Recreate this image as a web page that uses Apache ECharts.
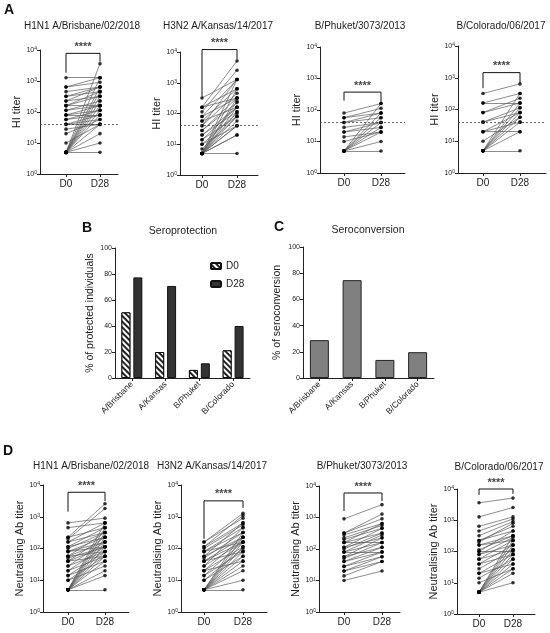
<!DOCTYPE html>
<html>
<head>
<meta charset="utf-8">
<title>HI and neutralising titers</title>
<script src="https://cdn.jsdelivr.net/npm/echarts@6/dist/echarts.min.js"></script>
<style>
  html, body { margin: 0; padding: 0; background: #fff; }
  #main { width: 550px; height: 633px; }
</style>
</head>
<body>
<div id="main"></div>
<script>
// ---- data ----
// A: HI titers, one entry per subject, D0 and D28 paired by index
var hiBrisbaneD0  = [1280,640,640,453,320,320,226,226,160,160,160,113,113,80,80,80,57,57,40,40,40,28,20,10,5,5,5,5,5,5,5,5,5,5,5,5,5];
var hiBrisbaneD28 = [1280,1280,905,640,640,453,640,320,453,320,160,226,160,160,113,80,113,80,80,57,40,40,57,40,3620,1280,640,453,320,226,160,113,80,40,20,10,5];
var hiKansasD0  = [320,160,160,160,113,80,80,57,57,40,40,28,28,20,20,14,14,10,10,7,5,5,5,5,5,5,5,5,5,5,5,5,5];
var hiKansasD28 = [1280,640,320,5120,2560,1280,320,640,160,1280,453,320,226,160,113,80,160,100,40,80,1280,640,320,250,160,113,80,57,40,20,20,5,40];
var hiPhuketD0  = [80,57,57,40,40,28,20,20,14,10,5,5,5,5,5,5,5,5];
var hiPhuketD28 = [160,113,80,80,57,40,40,28,20,20,160,80,57,40,28,20,10,5];
var hiColoradoD0  = [320,160,160,80,80,40,40,20,20,20,10,5,5,5,5,5,5,5,5];
var hiColoradoD28 = [640,320,160,226,160,113,80,80,40,20,57,320,160,113,80,57,40,20,5];

// D: neutralising Ab titers
var nBrisbaneD0  = [640,453,226,226,200,160,160,113,113,100,80,80,80,57,57,57,50,40,40,40,28,28,20,20,14,14,10,10,5,5,5,5,5,5,5,5,5,5,5,5];
var nBrisbaneD28 = [905,640,2560,453,1810,640,320,453,226,320,226,160,113,320,160,80,113,226,113,57,160,80,113,57,80,40,57,28,640,453,320,226,160,113,80,57,40,20,14,5];
var nKansasD0  = [160,160,113,113,100,80,80,57,57,50,40,40,28,28,20,20,14,14,10,10,5,5,5,5,5,5,5,5,5,5,5,80,40,20];
var nKansasD28 = [1280,905,1100,640,560,453,320,640,226,320,226,160,453,160,226,113,160,80,100,57,320,226,160,113,80,57,40,28,20,10,5,160,80,40];
var nPhuketD0  = [905,320,320,280,226,200,160,160,113,113,100,80,80,57,57,50,40,40,28,28,20,20,14,10,80,160];
var nPhuketD28 = [2560,1280,905,640,560,453,640,320,453,226,320,280,160,226,113,160,113,80,80,57,57,40,40,20,80,160];
var nColoradoD0  = [3620,1280,640,453,320,226,226,200,160,160,113,100,80,80,57,57,40,40,28,20,20,14,10,5,5,5,5,5,5,5,5,5,5,100];
var nColoradoD28 = [5120,2560,1280,1100,905,640,453,800,320,226,320,453,280,160,226,113,160,80,113,80,40,57,28,320,226,160,113,80,57,40,28,20,10,100];

// significance brackets: [left foot, bar, right foot] in titer units
var brHiBrisbane = [1850, 7800, 4200];
var brHiKansas   = [350, 12000, 5700];
var brHiPhuket   = [200, 370, 170];
var brHiColorado = [470, 1450, 700];
var brNBrisbane  = [1450, 5900, 3100];
var brNKansas    = [200, 3160, 1900];
var brNPhuket    = [1600, 6000, 3300];
var brNColorado  = [6500, 10000, 7000];

// B / C
var strains = ['A/Brisbane', 'A/Kansas', 'B/Phuket', 'B/Colorado'];
var protD0  = [50.5, 20, 6.2, 21.3];
var protD28 = [77.4, 70.8, 11.3, 40];
var seroconv = [28.9, 74.7, 13.8, 19.7];

var days = ['D0', 'D28'];
var stars = '****';
var threshold = 40;

// ---- layout ----
var FONT = '"Liberation Sans", Arial, sans-serif';
var panels = [
  {t:'H1N1 A/Brisbane/02/2018', yn:'HI titer', d0:hiBrisbaneD0, d28:hiBrisbaneD28, br:brHiBrisbane, dot:true, left:40, top:50, h:124, x0:66, x1:100, right:118, tx:82, ty:21},
  {t:'H3N2 A/Kansas/14/2017', yn:'HI titer', d0:hiKansasD0, d28:hiKansasD28, br:brHiKansas, dot:true, left:180, top:52, h:123, x0:202, x1:237, right:258, tx:218, ty:21},
  {t:'B/Phuket/3073/2013', yn:'HI titer', d0:hiPhuketD0, d28:hiPhuketD28, br:brHiPhuket, dot:true, left:320, top:47, h:126, x0:344, x1:381, right:405, tx:360, ty:21},
  {t:'B/Colorado/06/2017', yn:'HI titer', d0:hiColoradoD0, d28:hiColoradoD28, br:brHiColorado, dot:true, left:458, top:46, h:127, x0:483, x1:520, right:546, tx:501, ty:21},
  {t:'H1N1 A/Brisbane/02/2018', yn:'Neutralising Ab titer', d0:nBrisbaneD0, d28:nBrisbaneD28, br:brNBrisbane, dot:false, left:43, top:485, h:127, x0:68, x1:105, right:129, tx:91, ty:461},
  {t:'H3N2 A/Kansas/14/2017', yn:'Neutralising Ab titer', d0:nKansasD0, d28:nKansasD28, br:brNKansas, dot:false, left:181, top:485, h:127, x0:204, x1:243, right:267, tx:212, ty:461},
  {t:'B/Phuket/3073/2013', yn:'Neutralising Ab titer', d0:nPhuketD0, d28:nPhuketD28, br:brNPhuket, dot:false, left:319, top:486, h:126, x0:344, x1:382, right:400, tx:362, ty:461},
  {t:'B/Colorado/06/2017', yn:'Neutralising Ab titer', d0:nColoradoD0, d28:nColoradoD28, br:brNColorado, dot:false, left:457, top:489, h:125, x0:479, x1:513, right:535, tx:499, ty:462}
];

var grids = [], xAxes = [], yAxes = [], series = [], titles = [];

var axisLineStyle = {onZero: false, lineStyle: {color: '#222', width: 1}};
var tickStyle = {show: true, length: 3, lineStyle: {color: '#222', width: 1}};

panels.forEach(function (p, i) {
  var unit = p.x1 - p.x0;
  grids.push({left: p.left, top: p.top, width: p.right - p.left, height: p.h});
  xAxes.push({
    gridIndex: i, type: 'value',
    min: -(p.x0 - p.left) / unit, max: 1 + (p.right - p.x1) / unit,
    axisLine: axisLineStyle, splitLine: {show: false},
    axisTick: Object.assign({customValues: [0, 1]}, tickStyle),
    axisLabel: {customValues: [0, 1], formatter: function (v) { return days[Math.round(v)]; },
      fontSize: 10, color: '#222', fontFamily: FONT, margin: 5}
  });
  yAxes.push({
    gridIndex: i, type: 'log', logBase: 10, min: 1, max: 10000,
    name: p.yn, nameLocation: 'middle', nameRotate: 90, nameGap: p.dot ? 14 : 17,
    nameTextStyle: {fontSize: 11, color: '#222', fontFamily: FONT},
    axisLine: {show: true, onZero: false, lineStyle: {color: '#222', width: 1}},
    axisTick: tickStyle, splitLine: {show: false}, minorTick: {show: false},
    axisLabel: {
      color: '#222', fontFamily: FONT, margin: 3,
      formatter: function (v) { return '{b|10}{s|' + Math.round(Math.log10(v)) + '}'; },
      rich: {b: {fontSize: 7, color: '#222', fontFamily: FONT},
             s: {fontSize: 5, color: '#222', fontFamily: FONT, verticalAlign: 'top'}}
    }
  });

  var pairs = p.d0.map(function (v, k) { return {coords: [[0, v], [1, p.d28[k]]]}; });
  var dots = p.d0.map(function (v) { return [0, v]; }).concat(p.d28.map(function (v) { return [1, v]; }));

  series.push({
    type: 'lines', coordinateSystem: 'cartesian2d', xAxisIndex: i, yAxisIndex: i,
    data: pairs, silent: true,
    lineStyle: {color: '#5a5a5a', width: 0.7, opacity: 1}
  });
  series.push({
    type: 'scatter', xAxisIndex: i, yAxisIndex: i, data: dots,
    symbol: 'circle', symbolSize: 3.6, itemStyle: {color: '#000'}, silent: true
  });
  var br = {
    type: 'line', xAxisIndex: i, yAxisIndex: i, clip: false, silent: true,
    data: [[0, p.br[0]], [0, p.br[1]], [1, p.br[1]], [1, p.br[2]]],
    showSymbol: false, lineStyle: {color: '#111', width: 1}
  };
  if (p.dot) {
    br.markLine = {
      silent: true, symbol: ['none', 'none'], label: {show: false},
      lineStyle: {type: [2, 2], color: '#444', width: 0.8},
      data: [{yAxis: threshold}]
    };
  }
  series.push(br);
  series.push({
    type: 'scatter', xAxisIndex: i, yAxisIndex: i, clip: false, silent: true,
    data: [[0.5, p.br[1]]], symbolSize: 0,
    label: {show: true, position: 'top', distance: 1, formatter: stars,
      fontSize: 11, fontWeight: 'bold', color: '#111', fontFamily: FONT}
  });

  titles.push({text: p.t, left: p.tx, top: p.ty, textAlign: 'center', padding: 0,
    textStyle: {fontSize: 10, fontWeight: 'normal', color: '#222', fontFamily: FONT}});
});

// B: seroprotection
var gB = grids.length;
grids.push({left: 115, top: 248, width: 135, height: 130});
// C: seroconversion
var gC = grids.length;
grids.push({left: 303, top: 247, width: 131, height: 131});

[gB, gC].forEach(function (g) {
  xAxes.push({
    gridIndex: g, type: 'category', data: strains,
    axisLine: axisLineStyle, axisTick: {show: true, alignWithLabel: true, length: 3, lineStyle: {color: '#222'}},
    axisLabel: {rotate: 45, fontSize: 8.5, color: '#222', fontFamily: FONT, margin: 5, interval: 0}
  });
  yAxes.push({
    gridIndex: g, type: 'value', min: 0, max: 100, interval: 20,
    name: g === gB ? '% of protected individuals' : '% of seroconversion',
    nameLocation: 'middle', nameRotate: 90, nameGap: g === gB ? 19 : 20,
    nameTextStyle: {fontSize: 10.5, color: '#222', fontFamily: FONT},
    axisLine: {show: true, onZero: false, lineStyle: {color: '#222', width: 1}},
    axisTick: tickStyle, splitLine: {show: false},
    axisLabel: {fontSize: 7, color: '#222', fontFamily: FONT, margin: 3}
  });
});

series.push({
  name: 'D0', type: 'bar', xAxisIndex: gB, yAxisIndex: gB, data: protD0,
  barGap: '33%', barCategoryGap: '38%',
  itemStyle: {color: '#fff', borderColor: '#111', borderWidth: 1,
    decal: {color: '#222', backgroundColor: '#fff', dashArrayX: [1, 0], dashArrayY: [2, 2], rotation: Math.PI / 4, symbolSize: 1}}
});
series.push({
  name: 'D28', type: 'bar', xAxisIndex: gB, yAxisIndex: gB, data: protD28,
  barGap: '33%', barCategoryGap: '38%',
  itemStyle: {color: '#333', borderColor: '#111', borderWidth: 1}
});
series.push({
  type: 'bar', xAxisIndex: gC, yAxisIndex: gC, data: seroconv, barCategoryGap: '42%',
  itemStyle: {color: '#808080', borderColor: '#222', borderWidth: 1}
});

titles.push({text: 'Seroprotection', left: 183, top: 226, textAlign: 'center', padding: 0,
  textStyle: {fontSize: 10.5, fontWeight: 'normal', color: '#222', fontFamily: FONT}});
titles.push({text: 'Seroconversion', left: 368, top: 225, textAlign: 'center', padding: 0,
  textStyle: {fontSize: 10.5, fontWeight: 'normal', color: '#222', fontFamily: FONT}});

// panel letters
[['A', 4, 3], ['B', 82, 221], ['C', 274, 220], ['D', 3, 444]].forEach(function (l) {
  titles.push({text: l[0], left: l[1], top: l[2], padding: 0,
    textStyle: {fontSize: 14, fontWeight: 'bold', color: '#111', fontFamily: FONT}});
});

var chart = echarts.init(document.getElementById('main'), null, {renderer: 'canvas'});
chart.setOption({
  animation: false,
  backgroundColor: '#fff',
  title: titles,
  grid: grids,
  xAxis: xAxes,
  yAxis: yAxes,
  legend: {
    data: ['D0', 'D28'], orient: 'vertical', left: 205, top: 256,
    itemWidth: 10, itemHeight: 6, itemGap: 8,
    textStyle: {fontSize: 10, color: '#222', fontFamily: FONT}
  },
  series: series
});
</script>
</body>
</html>
